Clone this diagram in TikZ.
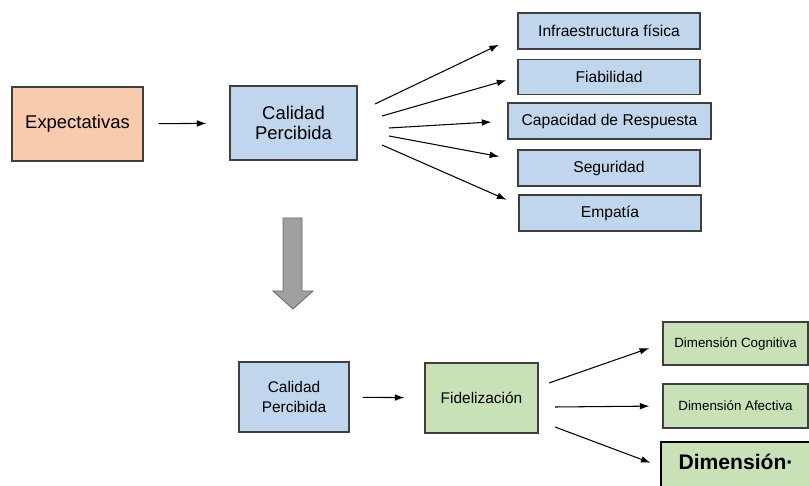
\documentclass[tikz,border=0pt]{standalone}
\usepackage{fontspec}
\setmainfont{Liberation Sans}
\usetikzlibrary{arrows.meta}

\definecolor{boxline}{HTML}{3F3F3F}
\definecolor{expfill}{HTML}{F8CBAD}
\definecolor{calfill}{HTML}{BFD6EC}
\definecolor{fidfill}{HTML}{C9E1B7}
\definecolor{bigarrow}{HTML}{A0A0A0}

\tikzset{
    box/.style={draw=boxline, line width=0.6pt, rectangle, align=center, inner sep=0pt},
    expbox/.style={box, fill=expfill},
    calbox/.style={box, fill=calfill},
    fidbox/.style={box, fill=fidfill},
    linkarrow/.style={line width=0.6pt, -{Latex[length=5.5pt,width=3.8pt]}}
}

\begin{document}
\begin{tikzpicture}[x=0.02cm, y=-0.02cm]
        \clip (0,0) rectangle (809,486);

        % first row
        \node[expbox,
        minimum width = 2.62cm,
        minimum height = 1.48cm,
        font=\fontsize{10.5}{11.4}\selectfont
        ](expect) at (77.5,124) {Expectativas};

        \node[calbox,
        minimum width = 2.54cm,
        minimum height = 1.48cm,
        font=\fontsize{10.5}{11.4}\selectfont
        ](calidadA) at (293.5,123) {Calidad\\Percibida};

        \node[calbox,
        minimum width = 3.64cm,
        minimum height = 0.72cm,
        font=\fontsize{8.9}{10}\selectfont
        ](infra) at (609,31) {Infraestructura física};

        \node[calbox,
        minimum width = 3.64cm,
        minimum height = 0.70cm,
        font=\fontsize{8.9}{10}\selectfont
        ](fiab) at (609,77) {Fiabilidad};

        \node[calbox,
        minimum width = 4.06cm,
        minimum height = 0.72cm,
        font=\fontsize{8.9}{10}\selectfont
        ](capac) at (609.5,121) {Capacidad de Respuesta};

        \node[calbox,
        minimum width = 3.64cm,
        minimum height = 0.72cm,
        font=\fontsize{8.9}{10}\selectfont
        ](segur) at (609,168) {Seguridad};

        \node[calbox,
        minimum width = 3.64cm,
        minimum height = 0.72cm,
        font=\fontsize{8.9}{10}\selectfont
        ](empat) at (610,213) {Empatía};

        \draw[linkarrow, shorten <=0.3cm, shorten >=0.46cm] (expect) -- (calidadA);

        \coordinate (fanA1) at (375,104);
        \coordinate (fanA2) at (382,116);
        \coordinate (fanA3) at (389,128);
        \coordinate (fanA4) at (389,136);
        \coordinate (fanA5) at (382,145);
        \draw[linkarrow, shorten >=0.41cm] (fanA1) -- (infra.183);
        \draw[linkarrow, shorten >=0.23cm] (fanA2) -- (fiab.west);
        \draw[linkarrow, shorten >=0.32cm] (fanA3) -- (capac.west);
        \draw[linkarrow, shorten >=0.37cm] (fanA4) -- (segur.175);
        \draw[linkarrow, shorten >=0.26cm] (fanA5) -- (empat.175);

        % grey block arrow
        \filldraw[fill=bigarrow, draw=gray!85!black, line width=0.5pt]
            (283,218) -- (302,218) -- (302,291) -- (313,291) -- (293,309)
            -- (273,291) -- (283,291) -- cycle;

        % second row
        \node[calbox,
        minimum width = 2.2cm,
        minimum height = 1.4cm,
        font=\fontsize{8.8}{11.3}\selectfont
        ](calidadB) at (294,397) {Calidad\\Percibida};

        \node[fidbox,
        minimum width = 2.26cm,
        minimum height = 1.4cm,
        font=\fontsize{8.8}{10}\selectfont
        ](fidel) at (481.5,398) {Fidelización};

        \node[fidbox,
        minimum width = 2.9cm,
        minimum height = 0.86cm,
        font=\fontsize{7.6}{9}\selectfont
        ](cognit) at (735.5,343.5) {Dimensión Cognitiva};

        \node[fidbox,
        minimum width = 2.9cm,
        minimum height = 0.88cm,
        font=\fontsize{7.6}{9}\selectfont
        ](afect) at (735.5,406) {Dimensión Afectiva};

        \node[fidbox,
        draw=black,
        line width=1.2pt,
        minimum width = 3.0cm,
        minimum height = 1.4cm,
        font=\bfseries\fontsize{12}{13}\selectfont
        ](conat) at (736,477) {Dimensión·\\\strut};

        \draw[linkarrow, shorten <=0.26cm, shorten >=0.4cm] (calidadB) -- (fidel);

        \coordinate (fanB1) at (549,383);
        \coordinate (fanB2) at (555,407);
        \coordinate (fanB3) at (555,427);
        \draw[linkarrow, shorten >=0.28cm] (fanB1) -- (cognit.west);
        \draw[linkarrow, shorten >=0.26cm] (fanB2) -- (afect.west);
        \draw[linkarrow, shorten >=0.2cm] (fanB3) -- (conat.172);

    \end{tikzpicture}
\end{document}
